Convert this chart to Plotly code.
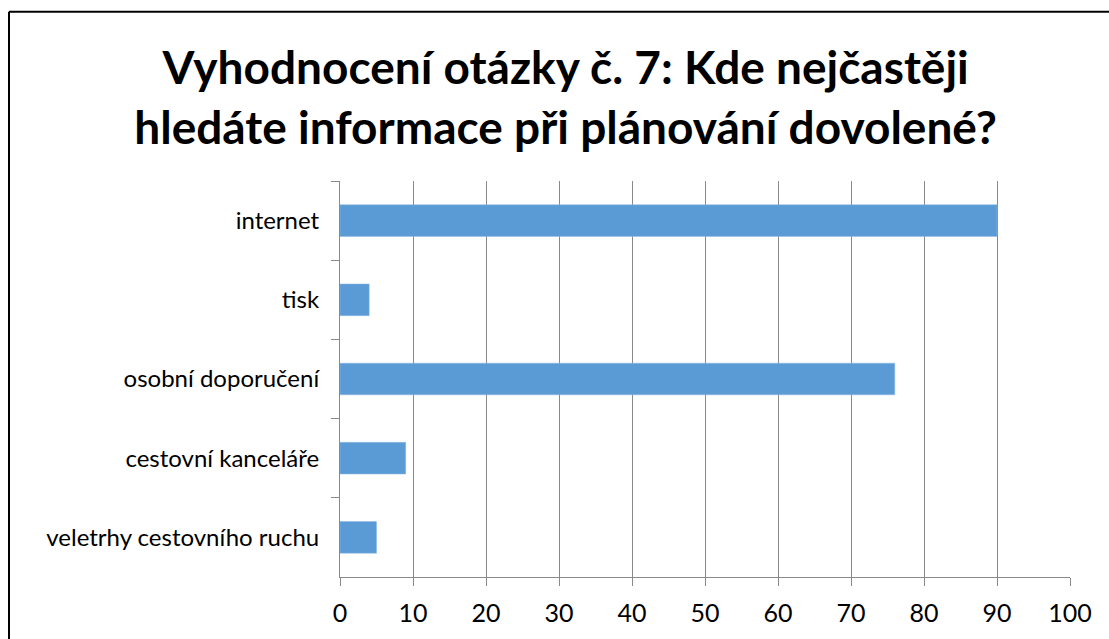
import plotly.graph_objects as go

categories = ["internet", "tisk", "osobní doporučení", "cestovní kanceláře", "veletrhy cestovního ruchu"]
values = [90, 4, 76, 9, 5]
x_ticks = [0, 10, 20, 30, 40, 50, 60, 70, 80, 90, 100]
title_text = "Vyhodnocení otázky č. 7: Kde nejčastěji<br>hledáte informace při plánování dovolené?"

W, H = 1109, 639
ML, MR, MT, MB = 340, 39, 181, 60
pw, ph = W - ML - MR, H - MT - MB

fig = go.Figure(go.Bar(
    x=values, y=categories, orientation="h",
    marker=dict(color="#5B9BD5", line=dict(color="#8DB8E4", width=0.5)),
    hoverinfo="x+y",
))

gray = "#898989"
fig.update_layout(
    width=W, height=H,
    margin=dict(l=ML, r=MR, t=MT, b=MB, pad=0),
    paper_bgcolor="white", plot_bgcolor="white",
    bargap=0.6,
    showlegend=False,
    font=dict(family="Lato, Open Sans, sans-serif", color="black"),
    title=dict(text=title_text, x=0.51, xanchor="center", y=0.868, yanchor="middle",
               font=dict(family="Lato, Open Sans, sans-serif", size=46, color="black", weight="bold")),
    xaxis=dict(range=[0, 100], tickvals=x_ticks, showgrid=True, gridcolor=gray, gridwidth=1,
               showline=True, linecolor=gray, linewidth=1, ticks="outside", ticklen=8,
               tickcolor=gray, tickfont=dict(size=25), zeroline=False, fixedrange=True,
               ticklabelstandoff=6),
    yaxis=dict(autorange="reversed", showline=True, linecolor=gray, linewidth=1,
               ticks="outside", ticklen=8, tickcolor=gray, tickson="boundaries",
               tickfont=dict(size=24), showgrid=False, ticklabelstandoff=15, fixedrange=True),
)

# outer frame (top and left edges visible in the reference)
x_left = (9 - ML) / pw
y_top = 1 + (MT - 11) / ph
fig.add_shape(type="line", xref="paper", yref="paper", x0=x_left, x1=1.2, y0=y_top, y1=y_top,
              line=dict(color="black", width=2))
fig.add_shape(type="line", xref="paper", yref="paper", x0=x_left, x1=x_left, y0=y_top, y1=-0.3,
              line=dict(color="black", width=2))

fig.write_html("out.html", config={"displayModeBar": False},
               post_script="document.body.style.margin='0';document.body.style.overflow='hidden';")
